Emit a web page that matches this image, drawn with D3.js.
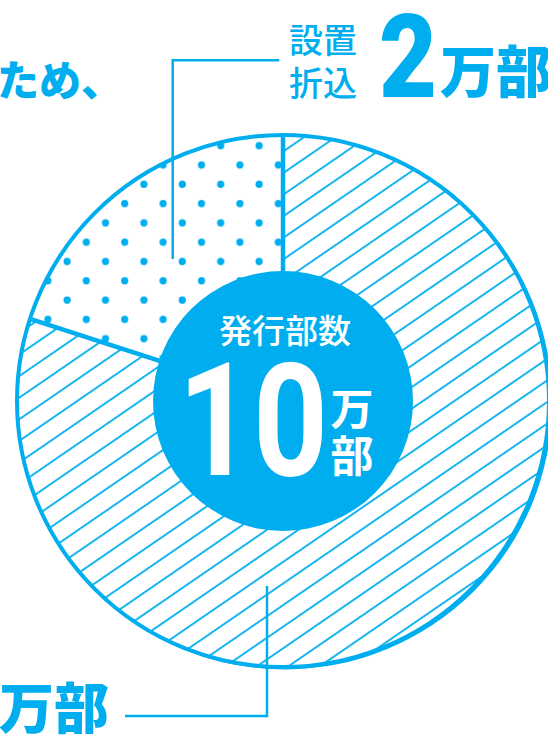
<!DOCTYPE html>
<html>
<head>
<meta charset="utf-8">
<script src="https://cdn.jsdelivr.net/npm/d3@7"></script>
<style>
  html, body { margin: 0; padding: 0; background: #fff; overflow: hidden; }
  svg { display: block; }
</style>
</head>
<body>
<svg id="chart" width="548" height="738"></svg>
<script>
// 発行部数の内訳（万部）
const categories = ["設置折込", "その他"];
const values     = [2, 8];
const totalLabel = "発行部数";
const totalValue = "10";
const unitLabel  = "万部";

const BLUE = "#00aeef";
const JP   = "'Noto Sans CJK JP', 'Noto Sans', sans-serif";
const NUM  = "Roboto, 'Noto Sans', sans-serif";

const svg = d3.select("#chart");
const cx = 283, cy = 401, R = 266, rDisc = 130;

// ─── patterns ─────────────────────────────
const defs = svg.append("defs");

// 斜線
const hatchH = 17.8;
const hatch = defs.append("pattern")
  .attr("id", "hatch")
  .attr("patternUnits", "userSpaceOnUse")
  .attr("width", 40).attr("height", hatchH)
  .attr("patternTransform", `translate(285.3,159.3) rotate(-34.5) translate(0,${-hatchH/2})`);
hatch.append("rect")
  .attr("x", 0).attr("y", hatchH/2 - 0.9)
  .attr("width", 40).attr("height", 1.8)
  .attr("fill", BLUE);

// ドット
const dw = 38.4, dh = 38.6;
const dots = defs.append("pattern")
  .attr("id", "dots")
  .attr("patternUnits", "userSpaceOnUse")
  .attr("width", dw).attr("height", dh)
  .attr("patternTransform", `translate(${225.7 - dw/4},${150 - dh/4})`);
dots.selectAll("circle")
  .data([[dw/4, dh/4], [dw*3/4, dh*3/4]])
  .join("circle")
  .attr("cx", d => d[0]).attr("cy", d => d[1])
  .attr("r", 3.6).attr("fill", BLUE);

// ─── pie ─────────────────────────────────
const share = values[0] / d3.sum(values);
const pie = d3.pie().sort(null)
  .startAngle(-2 * Math.PI * share)
  .endAngle(2 * Math.PI * (1 - share));
const arcs = pie(values);
const arc  = d3.arc().innerRadius(0).outerRadius(R);

const g = svg.append("g").attr("transform", `translate(${cx},${cy})`);

g.selectAll("path.slice")
  .data(arcs)
  .join("path")
  .attr("class", "slice")
  .attr("d", arc)
  .attr("fill", (d, i) => i === 0 ? "url(#dots)" : "url(#hatch)");

// 外周（右側が少し太い）
const ring = d3.path();
ring.arc(2, 1.2, R + 1.2, 0, 2 * Math.PI);
ring.moveTo(R, 0);
ring.arc(0, 0, R, 0, 2 * Math.PI);
g.append("path")
  .attr("d", ring.toString())
  .attr("fill", BLUE)
  .attr("fill-rule", "evenodd");

g.append("circle")
  .attr("r", R)
  .attr("fill", "none")
  .attr("stroke", BLUE)
  .attr("stroke-width", 4);

// 区切り線
g.selectAll("line.div")
  .data(arcs)
  .join("line")
  .attr("class", "div")
  .attr("x1", 0).attr("y1", 0)
  .attr("x2", d => R * Math.sin(d.startAngle))
  .attr("y2", d => -R * Math.cos(d.startAngle))
  .attr("stroke", BLUE)
  .attr("stroke-width", 4.5);

// 引き出し線
svg.append("path")
  .attr("d", "M279.3,60.3H172.7V259")
  .attr("fill", "none").attr("stroke", BLUE).attr("stroke-width", 2.5);
svg.append("path")
  .attr("d", "M267,586V716H125")
  .attr("fill", "none").attr("stroke", BLUE).attr("stroke-width", 2.5);

// 中央円
g.append("circle").attr("r", rDisc).attr("fill", BLUE);

g.append("text")
  .attr("x", 2).attr("y", 343 - cy)
  .attr("text-anchor", "middle")
  .attr("font-family", JP).attr("font-weight", 500).attr("font-size", 33)
  .attr("fill", "#fff")
  .text(totalLabel);

g.append("text")
  .attr("x", 178 - cx).attr("y", 475 - cy)
  .attr("font-family", NUM).attr("font-weight", 700).attr("font-size", 158)
  .attr("textLength", 150).attr("lengthAdjust", "spacingAndGlyphs")
  .attr("fill", "#fff")
  .text(totalValue);

g.selectAll("text.unit")
  .data(unitLabel.split(""))
  .join("text")
  .attr("class", "unit")
  .attr("x", 352 - cx)
  .attr("y", (d, i) => 425 - cy + i * 47)
  .attr("text-anchor", "middle")
  .attr("font-family", JP).attr("font-weight", 700).attr("font-size", 43)
  .attr("fill", "#fff")
  .text(d => d);

// ─── 外側ラベル ─────────────────────────
svg.selectAll("text.cat")
  .data([categories[0].slice(0, 2), categories[0].slice(2)])
  .join("text")
  .attr("class", "cat")
  .attr("x", 289).attr("y", (d, i) => 53 + i * 43)
  .attr("font-family", JP).attr("font-weight", 500).attr("font-size", 34)
  .attr("fill", BLUE)
  .text(d => d);

svg.append("text")
  .attr("x", 379).attr("y", 96.7)
  .attr("font-family", NUM).attr("font-weight", 900).attr("font-size", 116)
  .attr("textLength", 58).attr("lengthAdjust", "spacingAndGlyphs")
  .attr("fill", BLUE)
  .text(values[0]);

svg.append("text")
  .attr("x", 440).attr("y", 92)
  .attr("font-family", JP).attr("font-weight", 900).attr("font-size", 56)
  .attr("fill", BLUE)
  .text(unitLabel);

svg.append("text")
  .attr("x", -3).attr("y", 96)
  .attr("font-family", JP).attr("font-weight", 900).attr("font-size", 42)
  .attr("fill", BLUE)
  .text("ため、");

svg.append("text")
  .attr("x", -1).attr("y", 728)
  .attr("font-family", JP).attr("font-weight", 900).attr("font-size", 55)
  .attr("fill", BLUE)
  .text(unitLabel);
</script>
</body>
</html>
